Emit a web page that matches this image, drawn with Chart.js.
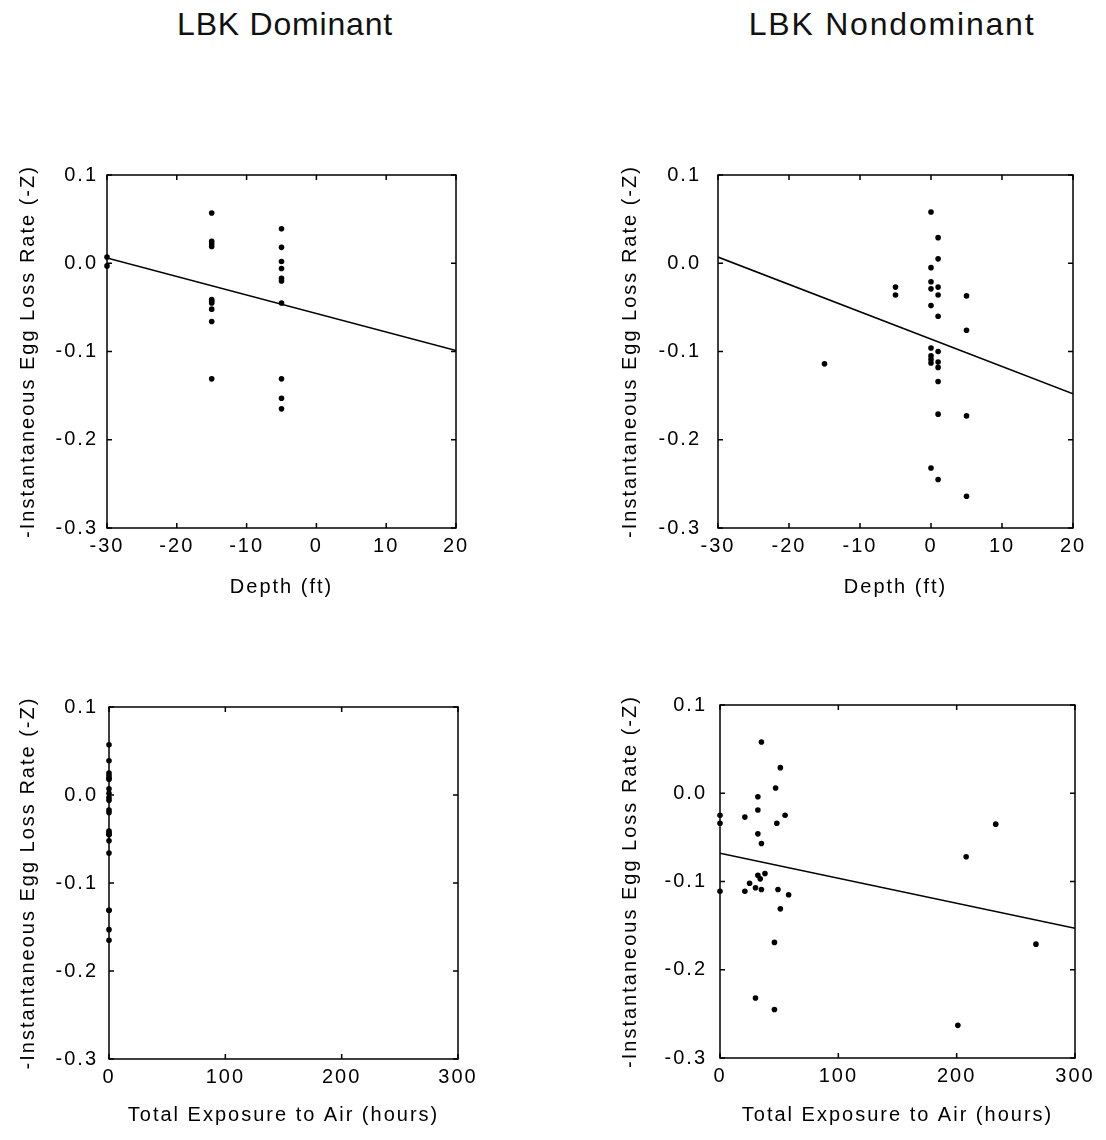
<!DOCTYPE html>
<html>
<head>
<meta charset="utf-8">
<script src="https://cdn.jsdelivr.net/npm/chart.js@4.4.1/dist/chart.umd.min.js"></script>
<style>
    body { margin: 0; background: #fff; }
    #page { position: relative; width: 1106px; height: 1140px; overflow: hidden; }
    canvas { position: absolute; }
    .col-title {
        position: absolute; top: 8px; width: 420px; text-align: center;
        font: 32px "Liberation Sans", Arial, sans-serif; line-height: 32px;
        color: #111;
    }
</style>
</head>
<body>
<div id="page">
    <div class="col-title" style="left:75px;letter-spacing:0.8px">LBK Dominant</div>
    <div class="col-title" style="left:682px;letter-spacing:1.8px">LBK Nondominant</div>
    <canvas id="domDepthChart" width="553" height="620" style="left:0;top:0"></canvas>
    <canvas id="ndDepthChart" width="553" height="620" style="left:553px;top:0"></canvas>
    <canvas id="domExpChart" width="553" height="520" style="left:0;top:620px"></canvas>
    <canvas id="ndExpChart" width="553" height="520" style="left:553px;top:620px"></canvas>
</div>
<script>
// axis ticks
const rateTicks = [-0.3, -0.2, -0.1, 0.0, 0.1];
const depthTicks = [-30, -20, -10, 0, 10, 20];
const exposureTicks = [0, 100, 200, 300];

// LBK dominant: depth (ft) vs loss rate
const domDepth = [-30, -30,
    -15, -15, -15, -15, -15, -15, -15, -15, -15, -15,
    -5, -5, -5, -5, -5, -5, -5, -5, -5, -5];
const domRate = [0.007, -0.003,
    0.057, 0.025, 0.022, 0.019, -0.041, -0.043, -0.045, -0.052, -0.066, -0.131,
    0.039, 0.018, 0.002, -0.006, -0.017, -0.020, -0.045, -0.131, -0.153, -0.165];
// same sites, all with ~0 hours out of water
const domExposure = [0, 0, 0, 0, 0, 0, 0, 0, 0, 0, 0, 0, 0, 0, 0, 0, 0, 0, 0, 0, 0, 0];

// LBK nondominant: depth (ft) vs loss rate
const ndDepth = [0, 0, 0, 0, 0, 0, 0, 0, 0, 0,
    1, 1, 1, 1, 1, 1, 1, 1, 1, 1, 1,
    -5, -5, 5, 5, 5, 5, -15];
const ndDepthRate = [0.058, -0.005, -0.021, -0.029, -0.048, -0.096, -0.105, -0.109, -0.113, -0.232,
    0.029, 0.005, -0.027, -0.036, -0.060, -0.100, -0.112, -0.118, -0.134, -0.171, -0.245,
    -0.027, -0.036, -0.037, -0.076, -0.173, -0.264, -0.114];

// LBK nondominant: exposure to air (hours) vs loss rate
const ndExposure = [35, 51, 47, 32, 32, 0, 0, 21, 55, 48, 32, 35, 233, 208, 38,
    32, 34, 25, 30, 21, 35, 49, 58, 0, 51, 46, 267, 30, 46, 201];
const ndExpRate = [0.058, 0.029, 0.006, -0.004, -0.019, -0.025, -0.034, -0.027, -0.025, -0.034, -0.046, -0.057, -0.035, -0.072, -0.091,
    -0.093, -0.097, -0.102, -0.107, -0.111, -0.109, -0.109, -0.115, -0.111, -0.131, -0.169, -0.171, -0.232, -0.245, -0.263];

// fitted regression lines (end points)
const domDepthFit = [0.006, -0.099];
const ndDepthFit = [0.007, -0.148];
const ndExpFit = [-0.068, -0.153];

const FONT = '"Liberation Sans", Arial, sans-serif';
const Y_TITLE = '-Instantaneous Egg Loss Rate (-Z)';

// wider letter spacing, the original lettering is quite open
const spacingPlugin = {
    id: 'spacing',
    beforeUpdate(chart) { chart.ctx.letterSpacing = '2px'; },
    beforeDraw(chart) { chart.ctx.letterSpacing = '2px'; }
};

// box round the plot + inward ticks on every side
const framePlugin = {
    id: 'frame',
    afterDatasetsDraw(chart) {
        const { ctx, chartArea: a, scales } = chart;
        const x = scales.x, y = scales.y;
        ctx.save();
        ctx.strokeStyle = '#000';
        ctx.lineWidth = 1.5;
        ctx.strokeRect(a.left, a.top, a.right - a.left, a.bottom - a.top);
        ctx.beginPath();
        x.ticks.forEach(t => {
            const px = x.getPixelForValue(t.value);
            ctx.moveTo(px, a.bottom); ctx.lineTo(px, a.bottom - 5);
            ctx.moveTo(px, a.top); ctx.lineTo(px, a.top + 5);
        });
        y.ticks.forEach(t => {
            const py = y.getPixelForValue(t.value);
            ctx.moveTo(a.left, py); ctx.lineTo(a.left + 5, py);
            ctx.moveTo(a.right, py); ctx.lineTo(a.right - 5, py);
        });
        ctx.stroke();
        ctx.restore();
    }
};

function toPoints(xs, ys) {
    return xs.map((v, i) => ({ x: v, y: ys[i] }));
}

function makePanel(id, p) {
    const datasets = [{
        data: toPoints(p.xs, p.ys),
        pointRadius: 2.8,
        pointBackgroundColor: '#000',
        pointBorderWidth: 0,
        clip: false
    }];
    if (p.fit) {
        datasets.push({
            data: toPoints([p.xTicks[0], p.xTicks[p.xTicks.length - 1]], p.fit),
            showLine: true,
            borderColor: '#000',
            borderWidth: 1.5,
            pointRadius: 0
        });
    }

    return new Chart(document.getElementById(id), {
        type: 'scatter',
        data: { datasets: datasets },
        plugins: [spacingPlugin, framePlugin],
        options: {
            responsive: false,
            animation: false,
            layout: { padding: { left: 0, top: p.top, right: p.right, bottom: 0 } },
            plugins: { legend: { display: false }, tooltip: { enabled: false } },
            scales: {
                x: {
                    type: 'linear',
                    min: p.xTicks[0],
                    max: p.xTicks[p.xTicks.length - 1],
                    afterBuildTicks: s => { s.ticks = p.xTicks.map(v => ({ value: v })); },
                    ticks: { color: '#000', font: { family: FONT, size: 20 }, padding: 6, maxRotation: 0,
                             callback: v => String(v) },
                    grid: { display: false, drawTicks: false },
                    border: { display: false },
                    title: { display: true, text: p.xTitle, color: '#000',
                             font: { family: FONT, size: 20 }, padding: { top: 0, bottom: p.xTitlePad } },
                    afterFit: s => { s.height = p.xHeight; }
                },
                y: {
                    type: 'linear',
                    min: -0.3,
                    max: 0.1,
                    afterBuildTicks: s => { s.ticks = rateTicks.map(v => ({ value: v })); },
                    ticks: { color: '#000', font: { family: FONT, size: 20 }, padding: p.yTickPad,
                             callback: v => Math.abs(v) < 1e-9 ? '0.0' : v.toFixed(1) },
                    grid: { display: false, drawTicks: false },
                    border: { display: false },
                    title: { display: true, text: Y_TITLE, color: '#000',
                             font: { family: FONT, size: 20 }, padding: { top: p.yTitlePad, bottom: 0 } },
                    afterFit: s => { s.width = p.yWidth; }
                }
            }
        }
    });
}

makePanel('domDepthChart', {
    xs: domDepth, ys: domRate, fit: domDepthFit, xTicks: depthTicks, xTitle: 'Depth (ft)',
    top: 175, right: 97, yWidth: 107, xHeight: 92, yTickPad: 9, yTitlePad: 16, xTitlePad: 21
});
makePanel('ndDepthChart', {
    xs: ndDepth, ys: ndDepthRate, fit: ndDepthFit, xTicks: depthTicks, xTitle: 'Depth (ft)',
    top: 175, right: 33, yWidth: 165, xHeight: 92, yTickPad: 17, yTitlePad: 65, xTitlePad: 21
});
makePanel('domExpChart', {
    xs: domExposure, ys: domRate, fit: null, xTicks: exposureTicks, xTitle: 'Total Exposure to Air (hours)',
    top: 87, right: 95, yWidth: 109, xHeight: 81, yTickPad: 11, yTitlePad: 16, xTitlePad: 13
});
makePanel('ndExpChart', {
    xs: ndExposure, ys: ndExpRate, fit: ndExpFit, xTicks: exposureTicks, xTitle: 'Total Exposure to Air (hours)',
    top: 85, right: 31, yWidth: 167, xHeight: 82, yTickPad: 13, yTitlePad: 65, xTitlePad: 13
});
</script>
</body>
</html>
